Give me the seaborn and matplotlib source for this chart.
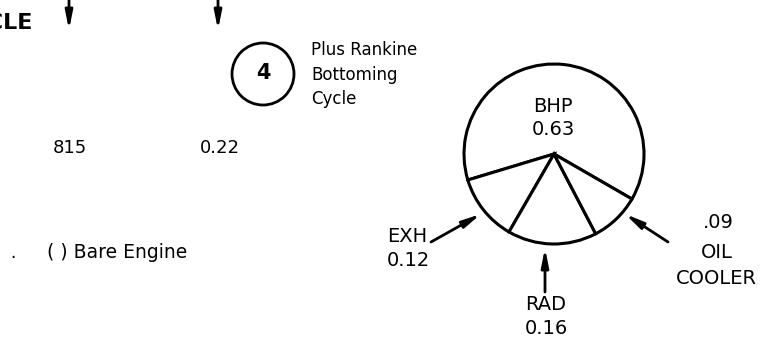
import seaborn as sns
import matplotlib.pyplot as plt
from matplotlib.patches import Circle

# Energy balance of the engine (fractions of fuel input)
slice_names = ['BHP', 'EXH', 'RAD', 'OIL COOLER']
slice_values = [0.63, 0.12, 0.16, 0.09]
slice_labels = ['0.63', '0.12', '0.16', '.09']

# values printed on the left part of the sheet
left_values = ['815', '0.22']
case_number = '4'
case_text = ['Plus Rankine', 'Bottoming', 'Cycle']
legend_text = '( ) Bare Engine'
header_text = 'CYCLE'

sns.set_theme(style='white')
plt.rcParams['font.family'] = ['DejaVu Sans']
plt.rcParams['text.color'] = 'black'

W, H = 774, 339
fig = plt.figure(figsize=(W / 100, H / 100), dpi=100)
ax = fig.add_axes([0, 0, 1, 1])

fs = 14  # labels round the pie

# pie of the energy split
ax.pie(slice_values, startangle=-30, counterclock=True, center=(554, 185),
       radius=90, frame=True,
       wedgeprops=dict(facecolor='white', edgecolor='black', linewidth=2.2))

ax.text(553, 232, slice_names[0], ha='center', va='center', fontsize=fs)
ax.text(553, 209.5, slice_labels[0], ha='center', va='center', fontsize=fs)

ax.text(387, 102.5, slice_names[1], ha='left', va='center', fontsize=fs)
ax.text(387, 79, slice_labels[1], ha='left', va='center', fontsize=fs)

ax.text(546, 35, slice_names[2], ha='center', va='center', fontsize=fs)
ax.text(546, 10, slice_labels[2], ha='center', va='center', fontsize=fs)

oil_top, oil_bottom = slice_names[3].split()
ax.text(718, 116, slice_labels[3], ha='center', va='center', fontsize=fs)
ax.text(717, 87, oil_top, ha='center', va='center', fontsize=fs)
ax.text(716, 60, oil_bottom, ha='center', va='center', fontsize=fs)

arrow = dict(arrowstyle='-|>,head_length=0.9,head_width=0.18', color='black',
             lw=2, shrinkA=0, shrinkB=0)
ax.annotate('', xy=(481, 125), xytext=(431, 97), arrowprops=arrow)
ax.annotate('', xy=(545, 91), xytext=(545, 47), arrowprops=arrow)
ax.annotate('', xy=(625, 125), xytext=(668, 97), arrowprops=arrow)

# left part of the sheet
for x in (69, 218):
    ax.annotate('', xy=(x, 309), xytext=(x, 345), arrowprops=arrow)

ax.text(33, 316, header_text, ha='right', va='center', fontsize=16,
        fontweight='bold')

ax.add_patch(Circle((263, 265), 31, facecolor='none', edgecolor='black', lw=2))
ax.text(263, 266, case_number, ha='center', va='center', fontsize=15,
        fontweight='bold')
for i, line in enumerate(case_text):
    ax.text(311, 289 - 24.5 * i, line, ha='left', va='center', fontsize=12)

ax.text(70, 191, left_values[0], ha='center', va='center', fontsize=13)
ax.text(220, 191, left_values[1], ha='center', va='center', fontsize=13)

ax.text(13, 81, '·', ha='center', va='center', fontsize=12)
ax.text(47, 86, legend_text, ha='left', va='center', fontsize=13.5)

ax.set_xlim(0, W)
ax.set_ylim(0, H)
ax.set_aspect('auto')
ax.axis('off')

fig.savefig('out.png', dpi=100, facecolor='white')
